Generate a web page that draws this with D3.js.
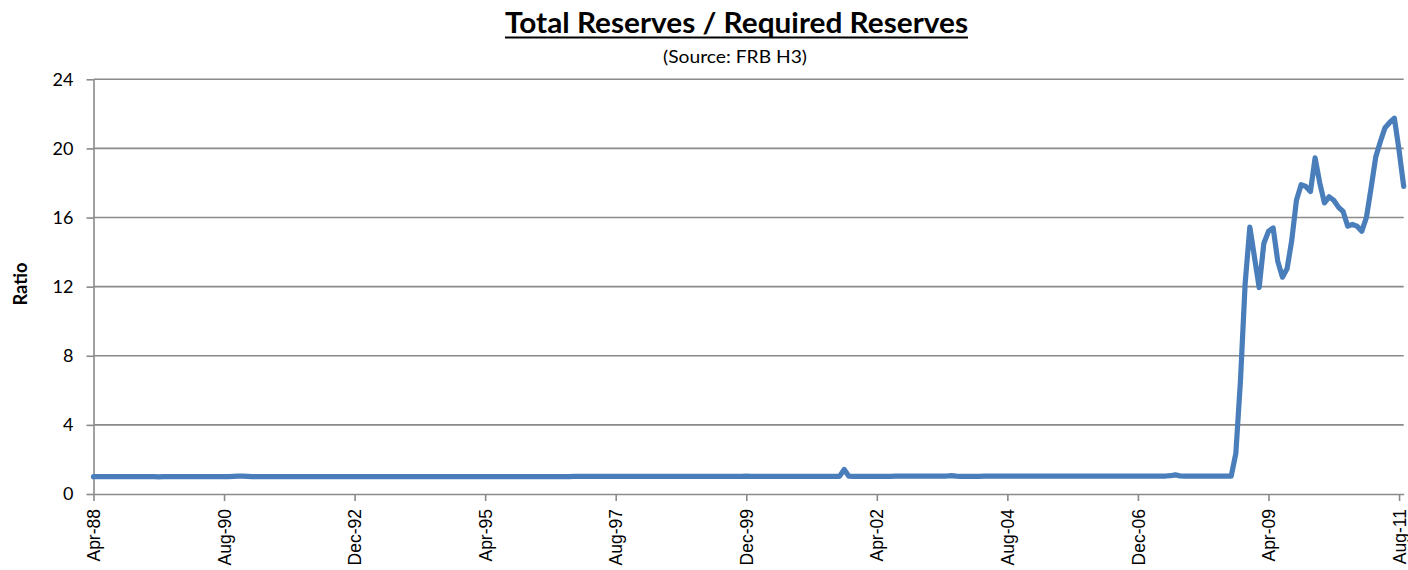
<!DOCTYPE html>
<html>
<head>
<meta charset="utf-8">
<script src="https://cdn.jsdelivr.net/npm/d3@7"></script>
<style>
    body { margin: 0; background: #fff; }
    text { fill: #000; }
</style>
</head>
<body>
<div id="chart"></div>
<script>
// monthly ratio, Apr-88 .. Sep-11
let ratio = [
    1.00, 1.00, 1.00, 1.00, 1.00, 1.00, 1.00, 1.00, 1.01,                     // 1988 (Apr-Dec)
    1.00, 1.00, 1.00, 1.00, 1.00, 0.99, 1.00, 1.00, 1.00, 1.00, 1.00, 1.01,   // 1989
    1.00, 1.00, 1.00, 1.00, 1.00, 1.00, 1.00, 1.00, 1.01, 1.02, 1.03, 1.03,   // 1990
    1.02, 1.01, 1.00, 1.00, 1.00, 1.00, 1.01, 1.01, 1.00, 1.00, 1.00, 1.01,   // 1991
    1.00, 1.00, 1.00, 1.00, 1.00, 1.00, 1.00, 1.01, 1.01, 1.00, 1.00, 1.01,   // 1992
    1.00, 1.00, 1.00, 1.00, 1.00, 1.00, 1.00, 1.00, 1.00, 1.00, 1.01, 1.01,   // 1993
    1.00, 1.00, 1.00, 1.00, 1.00, 1.00, 1.00, 1.00, 1.01, 1.00, 1.00, 1.00,   // 1994
    1.00, 1.00, 1.00, 1.00, 1.00, 1.00, 1.00, 1.00, 1.00, 1.00, 1.00, 1.01,   // 1995
    1.00, 1.00, 1.00, 1.00, 1.00, 1.00, 1.00, 1.01, 1.01, 1.01, 1.02, 1.02,   // 1996
    1.02, 1.02, 1.02, 1.02, 1.02, 1.02, 1.02, 1.02, 1.02, 1.02, 1.02, 1.02,   // 1997
    1.02, 1.02, 1.02, 1.02, 1.02, 1.02, 1.02, 1.02, 1.02, 1.02, 1.02, 1.02,   // 1998
    1.02, 1.02, 1.02, 1.02, 1.02, 1.02, 1.02, 1.02, 1.02, 1.02, 1.02, 1.03,   // 1999
    1.02, 1.02, 1.02, 1.02, 1.02, 1.02, 1.02, 1.02, 1.02, 1.02, 1.02, 1.02,   // 2000
    1.02, 1.02, 1.02, 1.02, 1.02, 1.02, 1.02, 1.02, 1.42, 1.03, 1.02, 1.02,   // 2001
    1.02, 1.02, 1.02, 1.02, 1.02, 1.02, 1.02, 1.03, 1.03, 1.03, 1.03, 1.03,   // 2002
    1.03, 1.03, 1.03, 1.03, 1.04, 1.03, 1.04, 1.06, 1.03, 1.02, 1.02, 1.02,   // 2003
    1.02, 1.02, 1.03, 1.03, 1.03, 1.03, 1.03, 1.03, 1.03, 1.04, 1.03, 1.03,   // 2004
    1.03, 1.03, 1.03, 1.03, 1.03, 1.03, 1.04, 1.04, 1.03, 1.03, 1.03, 1.03,   // 2005
    1.03, 1.03, 1.03, 1.04, 1.04, 1.03, 1.03, 1.03, 1.03, 1.03, 1.03, 1.03,   // 2006
    1.03, 1.03, 1.03, 1.03, 1.03, 1.04, 1.06, 1.11, 1.05, 1.03, 1.03, 1.03,   // 2007
    1.03, 1.04, 1.03, 1.03, 1.03, 1.03, 1.03, 1.03, 2.35, 6.6, 12.2, 15.45,   // 2008
    13.7, 11.95, 14.5, 15.2, 15.4, 13.45, 12.55, 13.05, 14.7, 17.0, 17.9, 17.8,   // 2009
    17.5, 19.45, 18.0, 16.85, 17.2, 17.0, 16.6, 16.35, 15.5, 15.6, 15.5, 15.2,    // 2010
    16.0, 17.7, 19.5, 20.4, 21.2, 21.5, 21.75, 19.9, 17.8                         // 2011 (Jan-Sep)
];

let tickLabels = ['Apr-88', 'Aug-90', 'Dec-92', 'Apr-95', 'Aug-97', 'Dec-99',
                  'Apr-02', 'Aug-04', 'Dec-06', 'Apr-09', 'Aug-11'];
let yTicks = [0, 4, 8, 12, 16, 20, 24];

let title = 'Total Reserves / Required Reserves';
let subtitle = '(Source: FRB H3)';
let yLabel = 'Ratio';

// month categories from Apr-88 onwards, one per value
let fmt = d3.timeFormat('%b-%y');
let months = d3.timeMonth.range(new Date(1988, 3, 1), new Date(1988, 3 + ratio.length, 1)).map(fmt);

const W = 1408, H = 570;
const plot = { left: 93.5, right: 1403.7, top: 79.3, bottom: 494 };
const gridColor = '#8a8a8a';

let svg = d3.select('#chart').append('svg')
    .attr('width', W)
    .attr('height', H);

let x = d3.scalePoint()
    .domain(months)
    .range([plot.left, plot.right]);

let y = d3.scaleLinear()
    .domain([0, 24])
    .range([plot.bottom, plot.top]);

// gridlines
svg.append('g')
    .selectAll('line').data(yTicks.filter(d => d > 0)).enter()
    .append('line')
        .attr('x1', plot.left)
        .attr('x2', plot.right)
        .attr('y1', d => y(d))
        .attr('y2', d => y(d))
        .attr('stroke', gridColor)
        .attr('stroke-width', 1.6);

// y axis
let yAxis = svg.append('g')
    .attr('transform', `translate(${plot.left},0)`)
    .call(d3.axisLeft(y).tickValues(yTicks).tickSize(7).tickSizeOuter(0).tickPadding(13));
yAxis.select('.domain').attr('stroke', gridColor).attr('stroke-width', 1.6);
yAxis.selectAll('.tick line').attr('stroke', gridColor).attr('stroke-width', 1.6);
yAxis.selectAll('.tick text')
    .attr('font-family', 'Lato, "Open Sans", sans-serif')
    .attr('font-size', 18)
    .attr('fill', '#000');

// x axis
let xAxis = svg.append('g')
    .attr('transform', `translate(0,${plot.bottom})`)
    .call(d3.axisBottom(x).tickValues(tickLabels).tickSize(7).tickSizeOuter(0));
xAxis.select('.domain').attr('stroke', gridColor).attr('stroke-width', 1.6);
xAxis.selectAll('.tick line').attr('stroke', gridColor).attr('stroke-width', 1.6);
xAxis.selectAll('.tick text')
    .attr('font-family', '"Liberation Sans", Arial, sans-serif')
    .attr('font-size', 17.5)
    .attr('fill', '#000')
    .attr('text-anchor', 'end')
    .attr('dy', '0.35em')
    .attr('transform', 'translate(0,15) rotate(-90)')
    .attr('x', 0)
    .attr('y', 0);

// the ratio line
let line = d3.line()
    .x((d, i) => x(months[i]))
    .y(d => y(d));

svg.append('path')
    .datum(ratio)
    .attr('d', line)
    .attr('fill', 'none')
    .attr('stroke', '#4a7ebb')
    .attr('stroke-width', 5.2)
    .attr('stroke-linejoin', 'round')
    .attr('stroke-linecap', 'round');

// titles
svg.append('text')
    .attr('x', 736.5)
    .attr('y', 33)
    .attr('text-anchor', 'middle')
    .attr('font-family', 'Lato, "Open Sans", sans-serif')
    .attr('font-weight', 'bold')
    .attr('font-size', 28)
    .attr('textLength', 463)
    .attr('lengthAdjust', 'spacingAndGlyphs')
    .text(title);

svg.append('line')
    .attr('x1', 736.5 - 463 / 2)
    .attr('x2', 736.5 + 463 / 2)
    .attr('y1', 37.5)
    .attr('y2', 37.5)
    .attr('stroke', '#000')
    .attr('stroke-width', 2);

svg.append('text')
    .attr('x', 735)
    .attr('y', 63)
    .attr('text-anchor', 'middle')
    .attr('font-family', 'Lato, "Open Sans", sans-serif')
    .attr('font-size', 17)
    .attr('textLength', 144)
    .attr('lengthAdjust', 'spacingAndGlyphs')
    .text(subtitle);

svg.append('text')
    .attr('transform', 'translate(27,284) rotate(-90)')
    .attr('text-anchor', 'middle')
    .attr('font-family', 'Lato, "Open Sans", sans-serif')
    .attr('font-weight', 'bold')
    .attr('font-size', 18)
    .attr('textLength', 43)
    .attr('lengthAdjust', 'spacingAndGlyphs')
    .text(yLabel);
</script>
</body>
</html>
